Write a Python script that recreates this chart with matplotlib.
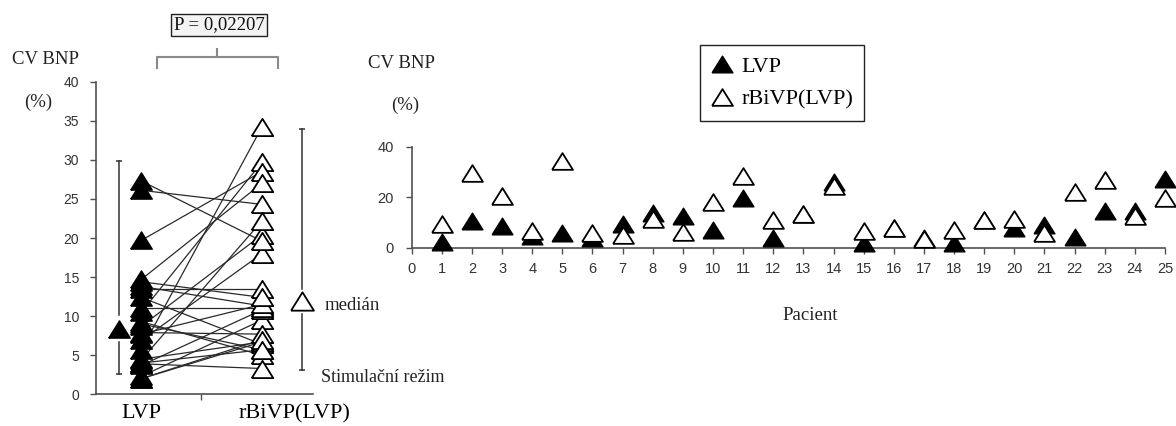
import matplotlib
matplotlib.use('Agg')
import matplotlib.pyplot as plt

# ---------------- data ----------------
patients = list(range(1, 26))
lvp = [2.3, 10.5, 8.7, 4.5, 5.7, 4.0, 9.3, 13.8, 12.4, 6.9, 19.7, 3.7, 13.5,
       26.1, 2.0, 7.9, 3.9, 2.0, 11.0, 7.7, 9.0, 4.4, 14.7, 14.4, 27.3]
rbivp = [9.5, 29.7, 20.4, 6.7, 34.2, 5.7, 5.0, 11.3, 6.4, 18.0, 28.5, 10.8, 13.5,
         24.3, 6.7, 7.7, 3.3, 7.0, 11.0, 11.5, 5.7, 22.2, 27.0, 12.4, 19.6]
group_labels = ['LVP', 'rBiVP(LVP)']
group_median = [8.4, 11.9]
group_low = [2.6, 3.1]
group_high = [29.8, 33.9]
left_yticks = [0, 5, 10, 15, 20, 25, 30, 35, 40]
right_yticks = [0, 20, 40]
right_xticks = list(range(0, 26))
p_text = 'P = 0,02207'
y_label = 'CV BNP'
y_unit = '(%)'
x_label_right = 'Pacient'
median_label = 'medián'
mode_label = 'Stimulační režim'

# ---------------- style ----------------
W, H = 1176, 426
SERIF = 'Liberation Serif'
SANS = 'Liberation Sans'
TRI = [(-1, -0.8), (1, -0.8), (0, 0.8), (-1, -0.8)]
AXC = '#505050'
TXC = '#333333'

fig = plt.figure(figsize=(W / 100, H / 100), dpi=100)


def px_axes(x0, y_top, x1, y_bot):
    return fig.add_axes([x0 / W, 1 - y_bot / H, (x1 - x0) / W, (y_bot - y_top) / H])


def style_axes(ax):
    for s in ['top', 'right']:
        ax.spines[s].set_visible(False)
    for s in ['left', 'bottom']:
        ax.spines[s].set_color(AXC)
        ax.spines[s].set_linewidth(1.2)
    ax.tick_params(colors=AXC, labelcolor=TXC, length=4, width=1.0)
    ax.set_facecolor('none')


# ---------------- left panel ----------------
axL = px_axes(95.7, 81.7, 313, 394.3)
style_axes(axL)
axL.set_xlim(0, 2)
axL.set_ylim(0, 40)
pos_lvp, pos_rb = 0.42, 1.53
pos_med = [0.21, 1.90]
for a, b in zip(lvp, rbivp):
    axL.plot([pos_lvp, pos_rb], [a, b], color='#2a2a2a', lw=0.9, zorder=2)
axL.plot([pos_lvp] * len(lvp), lvp, ls='none', marker=TRI, ms=15.5,
         mfc='black', mec='black', zorder=3, clip_on=False)
axL.plot([pos_rb] * len(rbivp), rbivp, ls='none', marker=TRI, ms=15.5,
         mfc='white', mec='black', mew=1.3, zorder=4, clip_on=False)
gaps = [(1.7, 1.8), (1.6, 1.6)]
for i in range(2):
    x = pos_med[i]
    g_lo, g_hi = gaps[i]
    axL.plot([x, x], [group_low[i], group_median[i] - g_lo], color='#333', lw=1.1)
    axL.plot([x, x], [group_median[i] + g_hi, group_high[i]], color='#333', lw=1.1)
    axL.plot([x, x], [group_low[i], group_high[i]], ls='none', marker='_',
             ms=5, mew=1.1, color='#333')
axL.plot([pos_med[0]], [group_median[0]], ls='none', marker=TRI, ms=15.5,
         mfc='black', mec='black', zorder=5, clip_on=False)
axL.plot([pos_med[1]], [group_median[1]], ls='none', marker=TRI, ms=16.5,
         mfc='white', mec='black', mew=1.3, zorder=5, clip_on=False)
axL.set_yticks(left_yticks)
axL.set_yticklabels([str(v) for v in left_yticks], fontfamily=SANS, fontsize=10)
axL.tick_params(axis='y', pad=8)
axL.set_xticks([0.97])
axL.set_xticklabels([''])

# ---------------- right panel ----------------
axR = px_axes(411.7, 146.7, 1165, 247.7)
style_axes(axR)
axR.set_xlim(0, 25)
axR.set_ylim(0, 40)
h1, = axR.plot(patients, lvp, ls='none', marker=TRI, ms=15, mfc='black',
               mec='black', zorder=3, clip_on=False)
h2, = axR.plot(patients, rbivp, ls='none', marker=TRI, ms=15, mfc='white',
               mec='black', mew=1.3, zorder=4, clip_on=False)
axR.set_yticks(right_yticks)
axR.set_yticklabels([str(v) for v in right_yticks], fontfamily=SANS, fontsize=10.5)
axR.set_xticks(right_xticks)
axR.set_xticklabels([str(v) for v in right_xticks], fontfamily=SANS, fontsize=10.5)
axR.tick_params(axis='y', pad=9)
axR.tick_params(axis='x', pad=6)

leg = fig.legend([h1, h2], group_labels, loc='upper left',
                 bbox_to_anchor=(700 / W, 1 - 45 / H), frameon=True,
                 fancybox=False, edgecolor='#222222', framealpha=1,
                 prop={'family': SERIF, 'size': 16}, handlelength=1.0,
                 handletextpad=0.35, borderpad=0.5, labelspacing=0.55,
                 borderaxespad=0, numpoints=1)
leg.get_frame().set_linewidth(1.0)

# ---------------- overlay for text / bracket ----------------
ov = fig.add_axes([0, 0, 1, 1])
ov.set_xlim(0, W)
ov.set_ylim(H, 0)
ov.axis('off')
ov.set_facecolor('none')

ov.text(46, 60, y_label, fontfamily=SERIF, fontsize=13.5, ha='center', va='center', color='#222')
ov.text(38, 102, y_unit, fontfamily=SERIF, fontsize=13.5, ha='center', va='center', color='#222')
ov.text(401, 64, y_label, fontfamily=SERIF, fontsize=13.5, ha='center', va='center', color='#222')
ov.text(405, 105, y_unit, fontfamily=SERIF, fontsize=13.5, ha='center', va='center', color='#222')
ov.text(810, 316, x_label_right, fontfamily=SERIF, fontsize=13.5, ha='center', va='center', color='#222')
ov.text(141, 414, group_labels[0], fontfamily=SERIF, fontsize=16, ha='center', va='center', color='black')
ov.text(294, 414, group_labels[1], fontfamily=SERIF, fontsize=16, ha='center', va='center', color='black')
ov.text(325, 305, median_label, fontfamily=SERIF, fontsize=13.5, ha='left', va='center', color='#222')
ov.text(321, 378, mode_label, fontfamily=SERIF, fontsize=13, ha='left', va='center', color='#222')
ov.text(219, 25, p_text, fontfamily=SERIF, fontsize=13.5, ha='center', va='center', color='#111',
        bbox=dict(boxstyle='square,pad=0.15', facecolor='#f3f3f3', edgecolor='#222', lw=1.0))
BRC = '#8a8a8a'
ov.plot([157.3, 157.3, 278.3, 278.3], [68.3, 56.7, 56.7, 68.3], color=BRC, lw=1.5)
ov.plot([216.7, 216.7], [49.3, 56.7], color=BRC, lw=1.5)

fig.savefig('out.png', dpi=100, facecolor='white')
